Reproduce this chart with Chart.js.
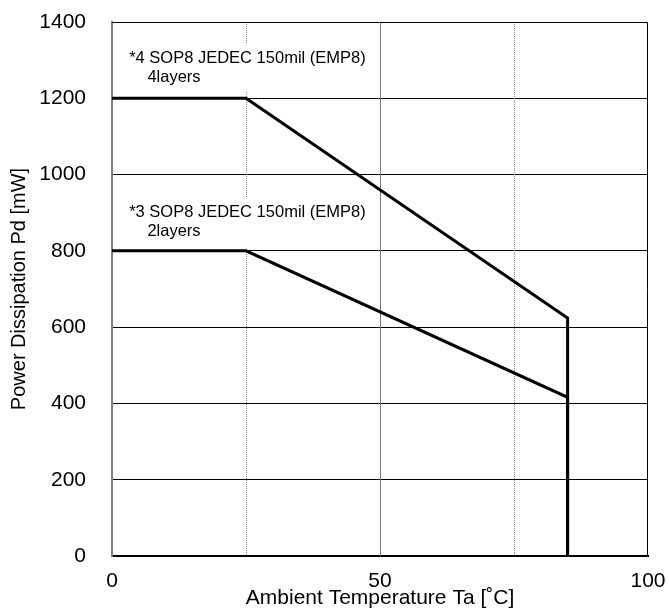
<!DOCTYPE html>
<html><head><meta charset="utf-8">
<script src="https://cdn.jsdelivr.net/npm/chart.js@4"></script>
<style>html,body{margin:0;padding:0;background:#fff}#wrap{width:669px;height:608px}</style>
</head><body><div id="wrap"><canvas id="c" width="669" height="608"></canvas></div>
<script>
const tempLayers4 = [0, 25, 85, 85];
const power4 = [1200, 1200, 624, 0];
const tempLayers2 = [0, 25, 85, 85];
const power2 = [800, 800, 416, 0];
const xTicks = [0, 50, 100];
const yTicks = [0, 200, 400, 600, 800, 1000, 1200, 1400];
const label4 = ["*4 SOP8 JEDEC 150mil (EMP8)", "4layers"];
const label2 = ["*3 SOP8 JEDEC 150mil (EMP8)", "2layers"];
const xGridDotted = [25, 75];
const xGridSolid = [50];

const toPts = (xs, ys) => xs.map((x, i) => ({x, y: ys[i]}));
const FONT = "'Liberation Sans', Arial, sans-serif";

const notes = {
  id: 'notes',
  beforeDatasetsDraw(chart) {
    const {ctx, chartArea: a, scales: {x, y}} = chart;
    ctx.save();
    ctx.lineWidth = 1;
    ctx.strokeStyle = '#8a8a8a';
    ctx.setLineDash([1, 1]);
    xGridDotted.forEach(v => {
      const px = Math.round(x.getPixelForValue(v)) + 0.5;
      ctx.beginPath(); ctx.moveTo(px, a.top); ctx.lineTo(px, a.bottom); ctx.stroke();
    });
    ctx.setLineDash([]);
    ctx.strokeStyle = '#777';
    xGridSolid.forEach(v => {
      const px = Math.round(x.getPixelForValue(v)) + 0.5;
      ctx.beginPath(); ctx.moveTo(px, a.top); ctx.lineTo(px, a.bottom); ctx.stroke();
    });
    const boxes = [
      {x0: 0.2, x1: 49.6, y0: 1345, y1: 1216, lines: label4, ty: [1292, 1242], tx: [3.2, 6.6]},
      {x0: 0.2, x1: 49.6, y0: 940, y1: 806, lines: label2, ty: [888, 838], tx: [3.2, 6.6]}
    ];
    boxes.forEach(b => {
      const l = x.getPixelForValue(b.x0), r = x.getPixelForValue(b.x1);
      const t = y.getPixelForValue(b.y0), bt = y.getPixelForValue(b.y1);
      ctx.fillStyle = '#fff';
      ctx.fillRect(l, t, r - l, bt - t);
      ctx.fillStyle = '#000';
      ctx.font = '16.5px ' + FONT;
      ctx.textBaseline = 'alphabetic';
      ctx.textAlign = 'left';
      b.lines.forEach((s, i) => ctx.fillText(s, x.getPixelForValue(b.tx[i]), y.getPixelForValue(b.ty[i])));
    });
    ctx.strokeStyle = '#000';
    ctx.lineWidth = 1;
    ctx.beginPath();
    ctx.moveTo(a.left, a.top + 0.5); ctx.lineTo(a.right - 0.5, a.top + 0.5); ctx.lineTo(a.right - 0.5, a.bottom);
    ctx.stroke();
    ctx.restore();
  }
};

new Chart(document.getElementById('c'), {
  type: 'scatter',
  data: {
    datasets: [
      {data: toPts(tempLayers4, power4), showLine: true, borderColor: '#000', borderWidth: 3, pointRadius: 0, fill: false, tension: 0},
      {data: toPts(tempLayers2, power2), showLine: true, borderColor: '#000', borderWidth: 3, pointRadius: 0, fill: false, tension: 0}
    ]
  },
  options: {
    responsive: false,
    animation: false,
    devicePixelRatio: 1,
    layout: {padding: {top: 22, right: 21, left: 0, bottom: 0}},
    plugins: {legend: {display: false}, tooltip: {enabled: false}},
    scales: {
      x: {
        type: 'linear', min: 0, max: 100,
        afterBuildTicks: s => { s.ticks = xTicks.map(v => ({value: v})); },
        afterFit: s => { s.height = 52; s.paddingLeft = 0; s.paddingRight = 0; },
        grid: {display: false, drawTicks: false},
        border: {display: true, color: '#000', width: 2},
        ticks: {color: '#000', font: {family: FONT, size: 21}, padding: 13, maxRotation: 0, callback: v => String(v)},
        title: {display: true, text: 'Ambient Temperature Ta [˚C]', color: '#000', font: {family: FONT, size: 21}, padding: {top: -2, bottom: -3}}
      },
      y: {
        type: 'linear', min: 0, max: 1400,
        afterBuildTicks: s => { s.ticks = yTicks.map(v => ({value: v})); },
        afterFit: s => { s.width = 112; s.paddingTop = 0; s.paddingBottom = 0; },
        grid: {display: true, color: ctx => (ctx.tick && (ctx.tick.value === 0 || ctx.tick.value === 1400)) ? 'rgba(0,0,0,0)' : '#000', lineWidth: 1, drawTicks: false},
        border: {display: true, color: '#808080', width: 2},
        ticks: {color: '#000', font: {family: FONT, size: 21}, padding: 26, callback: v => String(v)},
        title: {display: true, text: 'Power Dissipation Pd [mW]', color: '#000', font: {family: FONT, size: 20}, padding: {top: 7, bottom: 0}}
      }
    }
  },
  plugins: [notes]
});
</script>
</body></html>
